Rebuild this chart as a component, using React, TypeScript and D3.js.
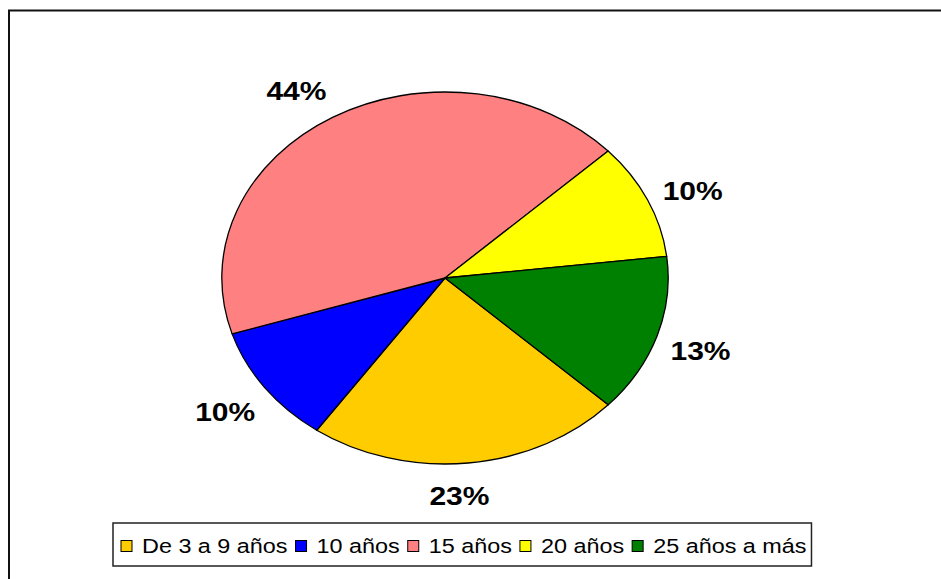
import React, { useEffect, useRef } from "react";
import * as d3 from "d3";

const categories = ["De 3 a 9 años", "10 años", "15 años", "20 años", "25 años a más"];
const values = [22.8, 10.4, 42.9, 10.1, 13.8];
const labels = ["23%", "10%", "44%", "10%", "13%"];
const colors = ["#FFCC00", "#0000FF", "#FF8080", "#FFFF00", "#008000"];

// label placement tweaks (degrees / radius), layout only
const labelAngleNudge = [2.8, 0, -3.3, 2, 0.7];
const labelRadius = [218, 227, 224, 224, 225];

const W = 941;
const H = 579;
const FONT = "Arial, 'Liberation Sans', sans-serif";

export default function App() {
  const ref = useRef<SVGSVGElement | null>(null);

  useEffect(() => {
    const svg = d3.select(ref.current);
    svg.selectAll("*").remove();

    svg.append("rect").attr("x", 0).attr("y", 0).attr("width", W).attr("height", H).attr("fill", "#fff");
    svg.append("rect")
      .attr("x", 9).attr("y", 10.5).attr("width", 1000).attr("height", 1000)
      .attr("fill", "none").attr("stroke", "#111").attr("stroke-width", 2);

    const cx = 445, cy = 278, r = 186, sx = 1.2;
    const start = (133 * Math.PI) / 180;
    const pie = d3.pie<number>().sort(null).value((d) => d).startAngle(start).endAngle(start + 2 * Math.PI);
    const arcs = pie(values);
    const arc = d3.arc<d3.PieArcDatum<number>>().innerRadius(0).outerRadius(r);

    const g = svg.append("g").attr("transform", `translate(${cx},${cy}) scale(${sx},1)`);
    g.selectAll("path").data(arcs).enter().append("path")
      .attr("d", arc as any)
      .attr("fill", (_d, i) => colors[i])
      .attr("stroke", "#000")
      .attr("stroke-width", 1.3)
      .attr("stroke-linejoin", "round")
      .attr("vector-effect", "non-scaling-stroke");

    svg.selectAll("text.lbl").data(arcs).enter().append("text")
      .attr("class", "lbl")
      .attr("transform", (d, i) => {
        const a = (d.startAngle + d.endAngle) / 2 + (labelAngleNudge[i] * Math.PI) / 180;
        const lr = labelRadius[i];
        const x = Math.sin(a) * lr;
        const y = -Math.cos(a) * lr;
        return `translate(${cx + x * sx},${cy + y}) scale(${sx},1)`;
      })
      .attr("text-anchor", "middle")
      .attr("dy", "0.36em")
      .attr("font-family", FONT)
      .attr("font-weight", "bold")
      .attr("font-size", 25)
      .attr("fill", "#000")
      .text((_d, i) => labels[i]);

    // legend
    const legY = 546;
    const legX0 = 121;
    const sw = 11;
    const lg = svg.append("g");
    let x = legX0;
    categories.forEach((c, i) => {
      lg.append("rect")
        .attr("x", x).attr("y", legY - sw / 2).attr("width", sw).attr("height", sw)
        .attr("fill", colors[i]).attr("stroke", "#000").attr("stroke-width", 1);
      const t = lg.append("text")
        .attr("transform", `translate(${x + sw + 10},${legY}) scale(${sx},1)`)
        .attr("dy", "0.36em")
        .attr("font-family", FONT)
        .attr("font-size", 19.5)
        .attr("fill", "#000")
        .text(c);
      const tw = (t.node() as SVGTextElement).getComputedTextLength() * sx;
      x = x + sw + 10 + tw + 8;
    });
    const right = x - 8 + 5;
    lg.insert("rect", ":first-child")
      .attr("x", 113).attr("y", 523).attr("width", right - 113).attr("height", 43)
      .attr("fill", "#fff").attr("stroke", "#222").attr("stroke-width", 1.5);
  }, []);

  return (
    <svg
      ref={ref}
      width={W}
      height={H}
      style={{ position: "absolute", left: 0, top: 0, display: "block" }}
    />
  );
}
